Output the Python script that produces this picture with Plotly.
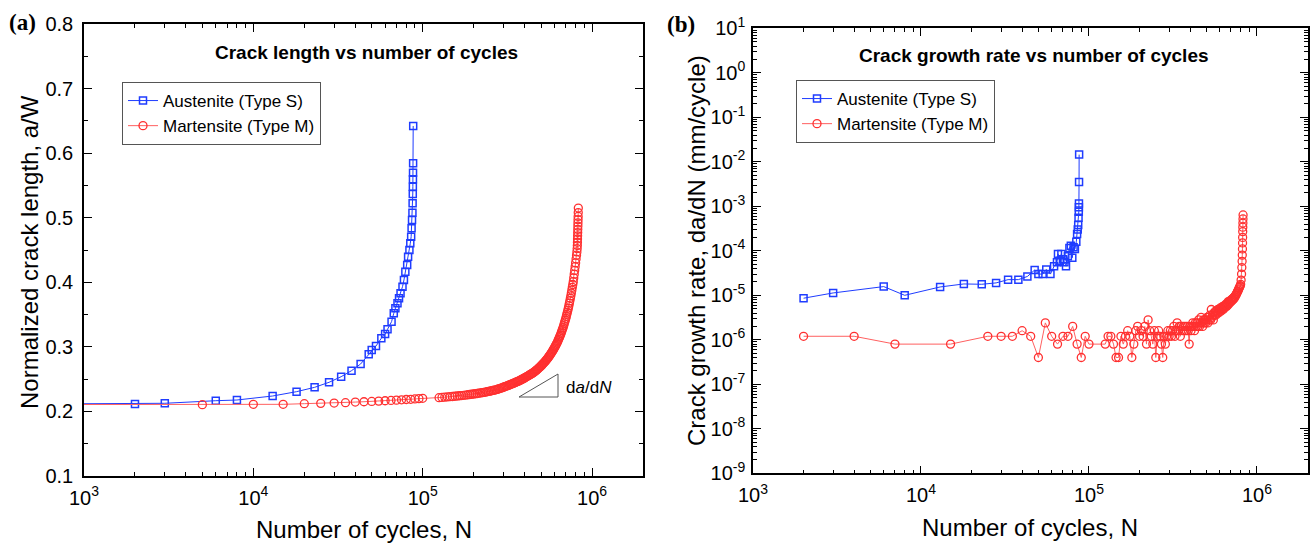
import math
import plotly.graph_objects as go

# ---------------- data ----------------
# Panel (a): Austenite (Type S) normalized crack length a/W vs N
aus_N_a = [100, 2000, 3000, 6000, 8000, 13000, 18000, 23000, 28000, 33000,
           38000, 43000, 48000, 50000, 53000, 57000, 60000, 62000, 65500, 67500,
           69000, 71000, 72500, 74000, 76000, 77500, 79000, 81000, 82000, 83500,
           84500, 85500, 86000, 86500, 87000, 87200, 87400, 87500, 87600, 87700,
           87800, 87900]
aus_aW = [0.2105, 0.2115, 0.2126, 0.2166, 0.2177, 0.2239, 0.2306, 0.2373, 0.2451, 0.2538,
          0.2631, 0.2735, 0.2884, 0.2951, 0.3013, 0.3133, 0.3199, 0.3272, 0.339, 0.352,
          0.3597, 0.3675, 0.3752, 0.383, 0.3932, 0.4035, 0.4164, 0.4268, 0.4396, 0.450,
          0.4604, 0.4706, 0.4836, 0.4965, 0.5078, 0.5223, 0.5367, 0.548, 0.5595, 0.5697,
          0.5843, 0.642]

# Panel (a): Martensite (Type M), early sparse readings
mar_N_a_sparse = [100, 5000, 10000, 15000, 20000, 25000, 30000, 35000, 40000, 45000,
                  50000, 55000, 60000, 65000, 70000, 75000, 80000, 85000, 90000, 95000,
                  100000]
mar_aW_sparse = [0.2105, 0.2105, 0.211, 0.211, 0.212, 0.2125, 0.213, 0.2135, 0.2145, 0.215,
                 0.2155, 0.216, 0.2165, 0.217, 0.2175, 0.218, 0.2185, 0.2188, 0.2193, 0.2198,
                 0.2203]

# Martensite dense readings (kilocycles), shared by both panels
mar_N_dense_k = [125, 130, 135, 140, 145, 150, 155, 160, 165, 170,
                 175, 180, 185, 190, 195, 200, 205, 210, 215, 220,
                 225, 230, 235, 240, 245, 250, 255, 260, 265, 270,
                 275, 280, 285, 290, 295, 300, 305, 310, 315, 320,
                 325, 330, 335, 340, 345, 350, 355, 360, 365, 370,
                 375, 380, 385, 390, 395, 400, 405, 410, 415, 420,
                 425, 430, 435, 440, 445, 450, 455, 460, 465, 470,
                 475, 480, 485, 490, 495, 500, 505, 510, 515, 520,
                 525, 530, 535, 540, 545, 550, 555, 560, 565, 570,
                 575, 580, 585, 590, 595, 600, 605, 610, 615, 620,
                 625, 630, 635, 640, 645, 650, 655, 660, 665, 670,
                 675, 680, 685, 690, 695, 700, 705, 710, 715, 720,
                 725, 730, 735, 740, 745, 750, 755, 760, 765, 770,
                 775, 780, 785, 790, 795, 800]
mar_aW_dense = [0.2213, 0.2217, 0.2220, 0.2224, 0.2228, 0.2231, 0.2235, 0.2239, 0.2243, 0.2246,
                0.2250, 0.2254, 0.2258, 0.2262, 0.2266, 0.2270, 0.2274, 0.2278, 0.2282, 0.2286,
                0.2290, 0.2295, 0.2300, 0.2305, 0.2310, 0.2315, 0.2320, 0.2325, 0.2330, 0.2335,
                0.2340, 0.2347, 0.2354, 0.2361, 0.2368, 0.2375, 0.2382, 0.2389, 0.2396, 0.2403,
                0.2410, 0.2417, 0.2424, 0.2431, 0.2438, 0.2445, 0.2452, 0.2459, 0.2466, 0.2473,
                0.2480, 0.2488, 0.2496, 0.2504, 0.2512, 0.2520, 0.2528, 0.2536, 0.2544, 0.2552,
                0.2560, 0.2568, 0.2576, 0.2584, 0.2592, 0.2600, 0.2610, 0.2620, 0.2630, 0.2640,
                0.2650, 0.2661, 0.2672, 0.2683, 0.2694, 0.2705, 0.2717, 0.2729, 0.2741, 0.2753,
                0.2765, 0.2778, 0.2791, 0.2804, 0.2817, 0.2830, 0.2845, 0.2860, 0.2875, 0.2890,
                0.2905, 0.2921, 0.2937, 0.2953, 0.2969, 0.2985, 0.3003, 0.3021, 0.3039, 0.3057,
                0.3075, 0.3096, 0.3117, 0.3138, 0.3159, 0.3180, 0.3204, 0.3228, 0.3252, 0.3276,
                0.3300, 0.3328, 0.3356, 0.3384, 0.3412, 0.3440, 0.3472, 0.3504, 0.3536, 0.3568,
                0.3600, 0.3638, 0.3676, 0.3714, 0.3752, 0.3790, 0.3834, 0.3878, 0.3922, 0.3966,
                0.4010, 0.4068, 0.4126, 0.4184, 0.4242, 0.4300]
# final rapid-growth stack (kilocycles)
mar_N_stack_a_k = [805, 810, 814, 817, 819, 820, 821, 822, 823, 824, 825, 826, 827, 828, 829, 830]
mar_aW_stack = [0.436, 0.442, 0.447, 0.452, 0.457, 0.462, 0.467, 0.472, 0.477, 0.482,
                0.487, 0.492, 0.497, 0.502, 0.508, 0.515]

# Panel (b): Austenite da/dN (mm/cycle)
aus_N_b = [2000, 3000, 6000, 8000, 13000, 18000, 23000, 28000, 33000, 38000,
           43000, 47500, 50000, 53000, 55700, 59000, 62000, 64500, 65400, 67000,
           68500, 70000, 71500, 73000, 74900, 76500, 78000, 79600, 81000, 82500,
           84100, 85000, 85800, 86300, 86700, 87000, 87100, 87200, 87300, 87400]
aus_dadN = [8.6e-6, 1.13e-5, 1.57e-5, 1.0e-5, 1.54e-5, 1.8e-5, 1.77e-5, 1.9e-5, 2.25e-5, 2.25e-5,
            2.65e-5, 3.7e-5, 3.0e-5, 3.0e-5, 3.8e-5, 3.0e-5, 4.5e-5, 5.5e-5, 8.5e-5, 6.0e-5,
            8.5e-5, 6.5e-5, 5.5e-5, 4.5e-5, 7.5e-5, 1.15e-4, 1.3e-4, 7.0e-5, 1.2e-4, 1.1e-4,
            1.6e-4, 2.4e-4, 3.0e-4, 3.8e-4, 5.5e-4, 7.5e-4, 9.5e-4, 1.15e-3, 3.5e-3, 1.45e-2]

# Panel (b): Martensite da/dN
mar_N_b_sparse = [2000, 4000, 7000, 15000, 25000, 30000, 35000, 40000, 45000, 50000,
                  55000, 60000, 65000, 70000, 75000, 80000, 85000, 90000, 95000, 100000]
mar_dadN_sparse = [1.2e-6, 1.2e-6, 8e-7, 8e-7, 1.2e-6, 1.2e-6, 1.2e-6, 1.6e-6, 1.2e-6, 4e-7,
                   2.4e-6, 1.2e-6, 8e-7, 1.2e-6, 1.2e-6, 2e-6, 8e-7, 4e-7, 1.2e-6, 8e-7]
mar_dadN_dense = [8e-7, 1.2e-6, 1.2e-6, 8e-7, 4e-7, 4e-7, 1.2e-6, 8e-7, 1.2e-6, 1.6e-6,
                  1.2e-6, 4e-7, 8e-7, 1.6e-6, 2e-6, 1.2e-6, 1.6e-6, 1.2e-6, 2e-6, 8e-7,
                  2.8e-6, 1.6e-6, 1.2e-6, 8e-7, 1.6e-6, 4e-7, 1.2e-6, 1.6e-6, 1.2e-6, 8e-7,
                  4e-7, 1.2e-6, 8e-7, 1.2e-6, 1.6e-6, 1.2e-6, 1.6e-6, 1.2e-6, 1.6e-6, 2e-6,
                  1.2e-6, 1.6e-6, 2.4e-6, 1.6e-6, 2e-6, 1.2e-6, 2e-6, 1.6e-6, 2e-6, 1.6e-6,
                  2e-6, 1.6e-6, 2e-6, 1.6e-6, 8e-7, 2e-6, 1.6e-6, 2e-6, 2.4e-6, 2e-6,
                  1.6e-6, 2.4e-6, 2e-6, 2.4e-6, 2e-6, 2.8e-6, 2e-6, 2.4e-6, 3.2e-6, 2.4e-6,
                  2e-6, 2.8e-6, 2.4e-6, 2.8e-6, 2.4e-6, 2.8e-6, 3.2e-6, 2.4e-6, 3.2e-6, 2.8e-6,
                  3.6e-6, 2.8e-6, 4.8e-6, 3.2e-6, 3.6e-6, 2.8e-6, 4e-6, 3.6e-6, 4.4e-6, 3.6e-6,
                  4.4e-6, 4e-6, 4.8e-6, 4e-6, 4.8e-6, 4.4e-6, 5.2e-6, 4.4e-6, 5.2e-6, 4.8e-6,
                  5.6e-6, 4.8e-6, 5.6e-6, 5.2e-6, 6e-6, 5.6e-6, 6.4e-6, 5.6e-6, 6.4e-6, 6e-6,
                  7.2e-6, 6.4e-6, 7.2e-6, 6.8e-6, 7.6e-6, 7.2e-6, 8e-6, 7.6e-6, 8.4e-6, 8e-6,
                  8.8e-6, 8.4e-6, 9.2e-6, 9.2e-6, 1.0e-5, 1.0e-5, 1.08e-5, 1.12e-5, 1.2e-5, 1.24e-5,
                  1.32e-5, 1.4e-5, 1.48e-5, 1.56e-5, 1.64e-5, 1.76e-5]
mar_N_stack_b_k = [805, 810, 813, 816, 818, 820, 821, 822, 823, 824, 825, 826, 827]
mar_dadN_stack = [2.2e-5, 3e-5, 4.2e-5, 5.8e-5, 8e-5, 1.1e-4, 1.5e-4, 2e-4, 2.7e-4, 3.4e-4,
                  4.2e-4, 5.2e-4, 6.4e-4]

# tick labels
x_tick_vals = [1e3, 1e4, 1e5, 1e6]
x_tick_text = ["10<sup>3</sup>", "10<sup>4</sup>", "10<sup>5</sup>", "10<sup>6</sup>"]
ya_tick_vals = [0.1, 0.2, 0.3, 0.4, 0.5, 0.6, 0.7, 0.8]
ya_tick_text = ["0.1", "0.2", "0.3", "0.4", "0.5", "0.6", "0.7", "0.8"]
ya_minor_vals = [0.15, 0.25, 0.35, 0.45, 0.55, 0.65, 0.75]
yb_exponents = [-9, -8, -7, -6, -5, -4, -3, -2, -1, 0, 1]
yb_tick_text = ["10<sup>-9</sup>", "10<sup>-8</sup>", "10<sup>-7</sup>", "10<sup>-6</sup>",
                "10<sup>-5</sup>", "10<sup>-4</sup>", "10<sup>-3</sup>", "10<sup>-2</sup>",
                "10<sup>-1</sup>", "10<sup>0</sup>", "10<sup>1</sup>"]

# ---------------- assemble ----------------
mar_N_a = mar_N_a_sparse + [k * 1000 for k in mar_N_dense_k] + [k * 1000 for k in mar_N_stack_a_k]
mar_aW = mar_aW_sparse + mar_aW_dense + mar_aW_stack
mar_N_b = mar_N_b_sparse + [k * 1000 for k in mar_N_dense_k] + [k * 1000 for k in mar_N_stack_b_k]
mar_dadN = mar_dadN_sparse + mar_dadN_dense + mar_dadN_stack

yb_tick_vals = [10.0 ** e for e in yb_exponents]
x_minor_vals = [m * 10.0 ** e for e in (3, 4, 5) for m in range(2, 10)]
yb_minor_vals = [m * 10.0 ** e for e in range(-9, 1) for m in range(2, 10)]

FONT = "Liberation Sans, Arial, sans-serif"
SERIF = "Liberation Serif, Times New Roman, serif"
BLUE = "#1f3cff"
RED = "#ff3030"
RED_LINE = "#ff6060"
W, H = 1312, 543

fig = go.Figure()
fig.add_trace(go.Scatter(x=aus_N_a, y=aus_aW, mode="lines+markers", name="Austenite (Type S)",
                         line=dict(color=BLUE, width=1),
                         marker=dict(symbol="square-open", size=7, color=BLUE, line=dict(width=1.5)),
                         xaxis="x", yaxis="y", legend="legend"))
fig.add_trace(go.Scatter(x=mar_N_a, y=mar_aW, mode="lines+markers", name="Martensite (Type M)",
                         line=dict(color=RED_LINE, width=1),
                         marker=dict(symbol="circle-open", size=8, color=RED, line=dict(width=1.3)),
                         xaxis="x", yaxis="y", legend="legend"))
fig.add_trace(go.Scatter(x=aus_N_b, y=aus_dadN, mode="lines+markers", name="Austenite (Type S)",
                         line=dict(color=BLUE, width=1),
                         marker=dict(symbol="square-open", size=7, color=BLUE, line=dict(width=1.5)),
                         xaxis="x2", yaxis="y2", legend="legend2"))
fig.add_trace(go.Scatter(x=mar_N_b, y=mar_dadN, mode="lines+markers", name="Martensite (Type M)",
                         line=dict(color=RED_LINE, width=1),
                         marker=dict(symbol="circle-open", size=8, color=RED, line=dict(width=1.3)),
                         xaxis="x2", yaxis="y2", legend="legend2"))

common = dict(showline=True, linecolor="black", linewidth=1.5, mirror="ticks",
              ticks="inside", ticklen=8, tickwidth=1.3, tickcolor="black",
              showgrid=False, zeroline=False, automargin=False,
              tickfont=dict(family=FONT, size=20, color="black"))
minor_common = dict(ticks="inside", ticklen=4, tickwidth=1.2, tickcolor="black", showgrid=False)

xrange_log = [3, math.log10(2e6)]

fig.update_layout(
    width=W, height=H,
    margin=dict(l=0, r=0, t=0, b=0, autoexpand=False),
    paper_bgcolor="white", plot_bgcolor="white",
    font=dict(family=FONT, color="black"),
    xaxis=dict(common, type="log", range=xrange_log, domain=[84 / W, 643 / W],
               tickmode="array", tickvals=x_tick_vals, ticktext=x_tick_text,
               ticklabelstandoff=3,
               minor=dict(minor_common, tickvals=x_minor_vals), anchor="y"),
    yaxis=dict(common, range=[0.1, 0.8], domain=[1 - 476 / H, 1 - 24 / H],
               tickmode="array", tickvals=ya_tick_vals, ticktext=ya_tick_text,
               ticklabelstandoff=5,
               minor=dict(minor_common, tickvals=ya_minor_vals), anchor="x"),
    xaxis2=dict(common, type="log", range=xrange_log, domain=[753 / W, 1307.5 / W],
                tickmode="array", tickvals=x_tick_vals, ticktext=x_tick_text,
                ticklabelstandoff=3,
                minor=dict(minor_common, tickvals=x_minor_vals), anchor="y2"),
    yaxis2=dict(common, type="log", range=[-9, 1], domain=[1 - 473.3 / H, 1 - 28.3 / H],
                tickmode="array", tickvals=yb_tick_vals, ticktext=yb_tick_text,
                ticklabelstandoff=2,
                minor=dict(minor_common, tickvals=yb_minor_vals), anchor="x2"),
    legend=dict(x=122 / W, y=1 - 82 / H, xanchor="left", yanchor="top",
                bgcolor="white", bordercolor="#555555", borderwidth=1,
                font=dict(family=FONT, size=17, color="black")),
    legend2=dict(x=796 / W, y=1 - 80 / H, xanchor="left", yanchor="top",
                 bgcolor="white", bordercolor="#555555", borderwidth=1,
                 font=dict(family=FONT, size=17, color="black")),
    showlegend=True,
)


def ann(text, x, y, size, family=FONT, angle=0, xanchor="center"):
    return dict(text=text, x=x / W, y=1 - y / H, xref="paper", yref="paper",
                showarrow=False, xanchor=xanchor, yanchor="middle", textangle=angle,
                font=dict(family=family, size=size, color="black"))


annotations = [
    ann("<b>(a)</b>", 22, 22, 23, SERIF),
    ann("<b>(b)</b>", 681, 24, 23, SERIF),
    ann("<b>Crack length vs number of cycles</b>", 366, 53, 19),
    ann("<b>Crack growth rate vs number of cycles</b>", 1034, 56, 19),
    ann("d<i>a</i>/d<i>N</i>", 564, 387, 17, xanchor="left"),
    # axis titles
    ann("Number of cycles, N", 363.5, 529, 24),
    ann("Number of cycles, N", 1030, 527, 24),
    ann("Normalized crack length, a/W", 30, 252, 24, angle=-90),
    ann("Crack growth rate, da/dN (mm/cycle)", 696, 251, 24, angle=-90),
]
fig.update_layout(annotations=annotations)

# slope triangle decoration next to da/dN label
tx0, tx1, ty0, ty1 = 519 / W, 558 / W, 1 - 397 / H, 1 - 374 / H
fig.add_shape(type="path", xref="paper", yref="paper",
              path=f"M {tx0},{ty0} L {tx1},{ty0} L {tx1},{ty1} Z",
              line=dict(color="#555555", width=1))

fig.write_html("out.html", config={"displayModeBar": False})
